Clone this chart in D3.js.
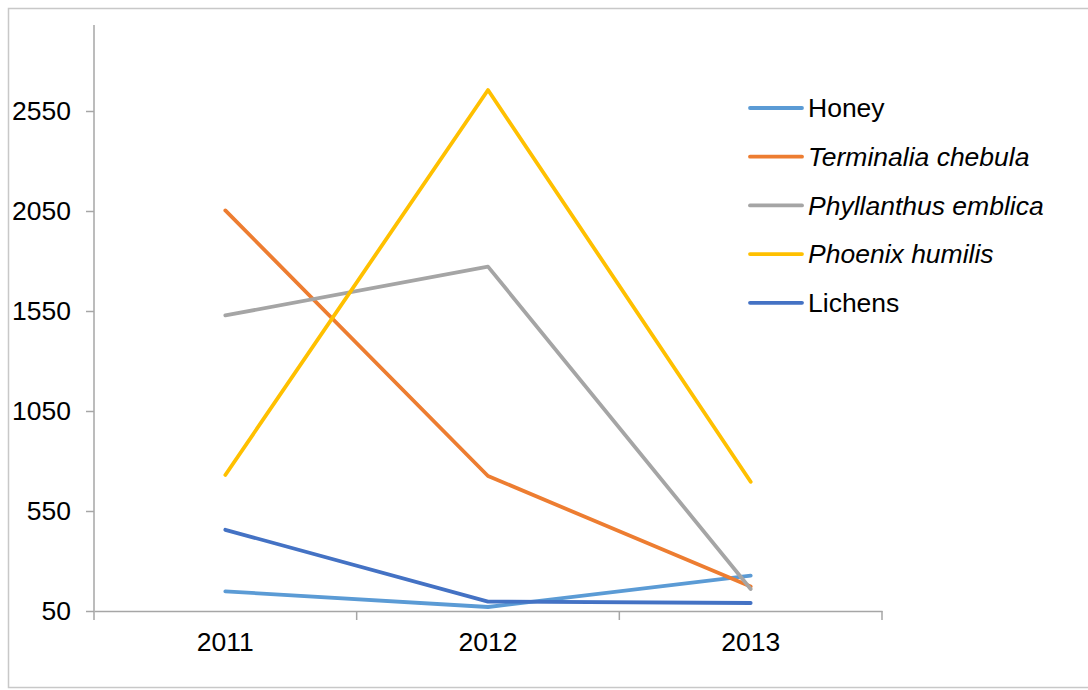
<!DOCTYPE html>
<html>
<head>
<meta charset="utf-8">
<script src="https://cdnjs.cloudflare.com/ajax/libs/d3/7.8.5/d3.min.js"></script>
<style>
  body { margin: 0; background: #fff; }
  text { font-family: "Liberation Sans", Arial, sans-serif; fill: #000; }
</style>
</head>
<body>
<script>
var w = 1088;
var h = 690;

var years = ["2011", "2012", "2013"];
var yTicks = [50, 550, 1050, 1550, 2050, 2550];

var seriesNames = ["Honey", "Terminalia chebula", "Phyllanthus emblica", "Phoenix humilis", "Lichens"];
var italicNames = [false, true, true, true, false];
var seriesColors = ["#5B9BD5", "#ED7D31", "#A5A5A5", "#FFC000", "#4472C4"];

var honey = [148, 70, 227];
var terminalia = [2053, 725, 172];
var phyllanthus = [1528, 1772, 160];
var phoenix = [730, 2655, 696];
var lichens = [456, 97, 90];

var seriesValues = [honey, terminalia, phyllanthus, phoenix, lichens];

//svg container
var svg = d3.select("body").append("svg")
            .attr("width", w)
            .attr("height", h);

// outer border
svg.append("rect")
    .attr("x", 8.5).attr("y", 8.5)
    .attr("width", 1100).attr("height", 679)
    .style("fill", "none")
    .style("stroke", "#C8C8C8")
    .style("stroke-width", 1.5);

var x = d3.scaleBand().domain(years).range([94, 882]);
var y = d3.scaleLinear().domain([50, 2980]).range([611, 25]);

// x axis
var xAxis = svg.append("g")
    .attr("transform", "translate(0,611)")
    .call(d3.axisBottom(x).tickSize(0).tickPadding(22));
xAxis.select(".domain").style("stroke", "#A6A6A6").style("stroke-width", 1.5);
xAxis.selectAll("text").style("font-size", "26.5px").attr("dy", "0.68em");

// tick marks between categories
svg.append("g").selectAll("line")
    .data(years.concat(["end"]))
    .enter()
    .append("line")
    .attr("x1", function(d, i){ return x.range()[0] + i * x.bandwidth(); })
    .attr("x2", function(d, i){ return x.range()[0] + i * x.bandwidth(); })
    .attr("y1", 611).attr("y2", 620)
    .style("stroke", "#A6A6A6").style("stroke-width", 1.5);

// y axis
var yAxis = svg.append("g")
    .attr("transform", "translate(94,0)")
    .call(d3.axisLeft(y).tickValues(yTicks).tickSize(8).tickPadding(15).tickFormat(d3.format("d")));
yAxis.select(".domain").attr("d", "M0," + y(2980) + "V" + y(50)).style("stroke", "#A6A6A6").style("stroke-width", 1.5);
yAxis.selectAll(".tick line").style("stroke", "#A6A6A6").style("stroke-width", 1.5);
yAxis.selectAll("text").style("font-size", "26.5px");

// lines
var line = d3.line()
    .x(function(d, i){ return x(years[i]) + x.bandwidth() / 2; })
    .y(function(d){ return y(d); });

svg.append("g").selectAll("path")
    .data(seriesValues)
    .enter()
    .append("path")
    .attr("d", function(d){ return line(d); })
    .style("fill", "none")
    .style("stroke", function(d, i){ return seriesColors[i]; })
    .style("stroke-width", 3.8)
    .style("stroke-linecap", "round")
    .style("stroke-linejoin", "round");

// legend
var legend = svg.append("g").attr("transform", "translate(750,108)");
var items = legend.selectAll("g")
    .data(seriesNames)
    .enter()
    .append("g")
    .attr("transform", function(d, i){ return "translate(0," + (i * 48.7) + ")"; });

items.append("line")
    .attr("x1", 0).attr("x2", 52)
    .attr("y1", 0).attr("y2", 0)
    .style("stroke", function(d, i){ return seriesColors[i]; })
    .style("stroke-width", 3.8)
    .style("stroke-linecap", "round");

items.append("text")
    .attr("x", 58).attr("y", 0)
    .attr("dy", "0.35em")
    .style("font-size", "26.5px")
    .style("font-style", function(d, i){ return italicNames[i] ? "italic" : "normal"; })
    .text(function(d){ return d; });
</script>
</body>
</html>
